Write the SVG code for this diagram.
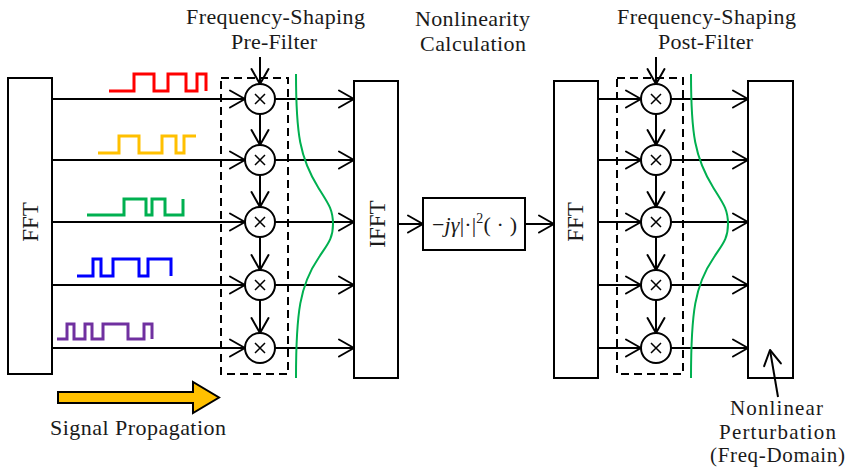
<svg xmlns="http://www.w3.org/2000/svg" width="846" height="470" viewBox="0 0 846 470">
<style>
.box{fill:none;stroke:#000;stroke-width:2}
.dash{fill:none;stroke:#000;stroke-width:2;stroke-dasharray:8 5}
.ln{fill:none;stroke:#000;stroke-width:2;marker-end:url(#a)}
.mul{fill:#fff;stroke:#000;stroke-width:2}
.x{stroke:#000;stroke-width:1.5}
.t{font-family:"Liberation Serif","Times New Roman",serif;font-size:22px;fill:#1a1a1a}
.s{font-size:21px}
.sig{fill:none;stroke-width:3}
.g{fill:none;stroke:#00B050;stroke-width:2}
</style>
<defs>
<marker id="a" markerUnits="userSpaceOnUse" markerWidth="20" markerHeight="22" viewBox="-18 -11 20 22" refX="0" refY="0" orient="auto" overflow="visible">
<path d="M-15,-8.5 L0,0 L-15,8.5" fill="none" stroke="#000" stroke-width="2" stroke-linejoin="round" stroke-linecap="round"/>
</marker>
<g id="mx"><circle class="mul" r="15"/><path class="x" d="M-5,-5 L5,5 M5,-5 L-5,5"/></g>
<path id="gc" class="g" d="M296,74 C296,134 299.8,158 318.5,188 C327.9,203 333,209 333,224 C333,239 327.5,244 318.5,258 C300,285 296,312 296,378"/>
</defs>

<g id="fft1">
<rect class="box" x="8" y="78" width="44" height="296"/>
<text class="t" style="font-size:23px" text-anchor="middle" transform="translate(38,222) rotate(-90)">FFT</text>
</g>

<g id="signals">
<path class="sig" stroke="#FF0000" d="M109,91 H134 V74 H154 V91 H168 V74 H186 V91 H197 V74 H206 V91"/>
<path class="sig" stroke="#FFC000" d="M98,153 H119 V136 H139 V153 H162 V136 H176 V153 H184 V136 H196"/>
<path class="sig" stroke="#00B050" d="M87,215 H124 V199 H146 V215 H152 V199 H165 V215 H183 V199"/>
<path class="sig" stroke="#0000FF" d="M77,276 H93 V259 H101 V276 H113 V259 H139 V276 H148 V259 H171 V276"/>
<path class="sig" stroke="#7030A0" d="M57,339 H67 V324 H74 V339 H85 V324 H92 V339 H103 V324 H128 V339 H144 V324 H152 V339"/>
</g>

<g id="connectors">
<path class="ln" d="M52,99 H245"/><path class="ln" d="M52,160 H245"/><path class="ln" d="M52,222 H245"/><path class="ln" d="M52,285 H245"/><path class="ln" d="M52,348 H245"/>
<path class="ln" d="M275,99 H354"/><path class="ln" d="M275,160 H354"/><path class="ln" d="M275,222 H354"/><path class="ln" d="M275,285 H354"/><path class="ln" d="M275,348 H354"/>
<path class="ln" d="M260,57 V84"/><path class="ln" d="M260,114 V145"/><path class="ln" d="M260,175 V207"/><path class="ln" d="M260,237 V270"/><path class="ln" d="M260,300 V333"/>
<path class="ln" d="M398,224 H423"/><path class="ln" d="M525,224 H554"/>
<path class="ln" d="M598,99 H641"/><path class="ln" d="M598,160 H641"/><path class="ln" d="M598,222 H641"/><path class="ln" d="M598,285 H641"/><path class="ln" d="M598,348 H641"/>
<path class="ln" d="M671,99 H748"/><path class="ln" d="M671,160 H748"/><path class="ln" d="M671,222 H748"/><path class="ln" d="M671,285 H748"/><path class="ln" d="M671,348 H748"/>
<path class="ln" d="M656,57 V84"/><path class="ln" d="M656,114 V145"/><path class="ln" d="M656,175 V207"/><path class="ln" d="M656,237 V270"/><path class="ln" d="M656,300 V333"/>
<path class="ln" d="M778,397 L770,350"/>
</g>

<g id="prefilter">
<rect class="dash" x="221" y="78" width="67" height="296"/>
<use href="#mx" x="260" y="99"/><use href="#mx" x="260" y="160"/><use href="#mx" x="260" y="222"/><use href="#mx" x="260" y="285"/><use href="#mx" x="260" y="348"/>
<use href="#gc"/>
</g>

<g id="ifft">
<rect class="box" x="354" y="81" width="44" height="297"/>
<text class="t" style="font-size:23px" text-anchor="middle" transform="translate(385,224) rotate(-90)">IFFT</text>
</g>

<g id="nonlinearity">
<rect class="box" x="423" y="198" width="102" height="52"/>
<text class="t" x="432" y="232" style="font-size:22px" textLength="85">−<tspan font-style="italic">jγ</tspan>|·|<tspan dy="-9" font-size="14">2</tspan><tspan dy="9">( · )</tspan></text>
</g>

<g id="fft2">
<rect class="box" x="554" y="81" width="44" height="297"/>
<text class="t" style="font-size:23px" text-anchor="middle" transform="translate(583,222) rotate(-90)">FFT</text>
</g>

<g id="postfilter">
<rect class="dash" x="617" y="78" width="66" height="296"/>
<use href="#mx" x="656" y="99"/><use href="#mx" x="656" y="160"/><use href="#mx" x="656" y="222"/><use href="#mx" x="656" y="285"/><use href="#mx" x="656" y="348"/>
<use href="#gc" x="395"/>
</g>

<g id="output">
<rect class="box" x="748" y="81" width="45" height="297"/>
</g>

<g id="propagation">
<path d="M58,392 H193 V382 L219,397.5 L193,413 V403 H58 Z" fill="#FFC000" stroke="#000" stroke-width="2"/>
<text class="t" x="138" y="435" text-anchor="middle" textLength="176">Signal Propagation</text>
</g>

<g id="labels">
<text class="t" x="275.5" y="24" text-anchor="middle" textLength="179">Frequency-Shaping</text>
<text class="t" x="274" y="49" text-anchor="middle" textLength="86">Pre-Filter</text>
<text class="t" x="472.5" y="26" text-anchor="middle" textLength="115">Nonlinearity</text>
<text class="t" x="473" y="51" text-anchor="middle" textLength="106">Calculation</text>
<text class="t" x="706.5" y="24" text-anchor="middle" textLength="179">Frequency-Shaping</text>
<text class="t" x="705.5" y="49" text-anchor="middle" textLength="95">Post-Filter</text>
<text class="t s" x="776.5" y="415" text-anchor="middle" textLength="93">Nonlinear</text>
<text class="t s" x="777.5" y="439" text-anchor="middle" textLength="117">Perturbation</text>
<text class="t s" x="777.5" y="462" text-anchor="middle" textLength="135">(Freq-Domain)</text>
</g>
</svg>
